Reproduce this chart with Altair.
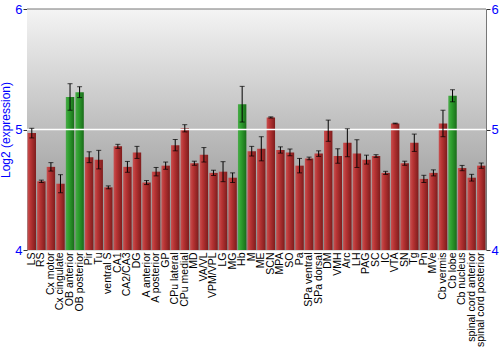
import altair as alt
import pandas as pd

regions = ["LS", "RS", "Cx motor", "Cx cingulate", "OB anterior", "OB posterior", "Pir", "Tu",
           "ventral S", "CA1", "CA2/CA3", "DG", "A anterior", "A posterior", "GP", "CPu lateral",
           "CPu medial", "MD", "VA/VL", "VPM/VPL", "LG", "MG", "Hb", "M", "ME", "SCN", "MPA", "SO",
           "Pa", "SPa ventral", "SPa dorsal", "DM", "VMH", "Arc", "LH", "PAG", "SC", "IC", "VTA",
           "SN", "Tg", "Pn", "MVe", "Cb vermis", "Cb lobe", "Cb nucleus", "spinal cord anterior",
           "spinal cord posterior"]
values = [4.97, 4.57, 4.69, 4.55, 5.27, 5.31, 4.77, 4.75,
          4.52, 4.86, 4.69, 4.81, 4.56, 4.65, 4.70, 4.87,
          5.01, 4.72, 4.79, 4.64, 4.65, 4.60, 5.21, 4.82, 4.84, 5.10, 4.83, 4.81,
          4.70, 4.76, 4.80, 4.99, 4.78, 4.89, 4.80, 4.75, 4.78, 4.64, 5.05,
          4.72, 4.89, 4.59, 4.64, 5.05, 5.28, 4.68, 4.60, 4.70]
errors = [0.04, 0.01, 0.035, 0.075, 0.11, 0.045, 0.045, 0.077,
          0.012, 0.017, 0.045, 0.05, 0.017, 0.035, 0.03, 0.047,
          0.03, 0.017, 0.06, 0.022, 0.083, 0.04, 0.148, 0.04, 0.10, 0.005, 0.026, 0.028,
          0.06, 0.011, 0.023, 0.088, 0.06, 0.116, 0.115, 0.037, 0.011, 0.013, 0.003,
          0.017, 0.072, 0.03, 0.025, 0.11, 0.05, 0.022, 0.028, 0.022]
highlighted = ["OB anterior", "OB posterior", "Hb", "Cb lobe"]
y_ticks = [4, 5, 6]

df = pd.DataFrame({"region": regions, "value": values, "err": errors})
df["lo"] = df["value"] - df["err"]
df["hi"] = df["value"] + df["err"]
df["hl"] = df["region"].isin(highlighted)

W, H = 459, 241
FONT = "Liberation Sans"

xenc = alt.X("region:N", sort=regions, scale=alt.Scale(paddingInner=0.12, paddingOuter=0.06),
             axis=alt.Axis(title=None, labelAngle=-90, labelAlign="right", labelBaseline="middle",
                           labelFontSize=10.5, labelColor="black", labelFont=FONT, ticks=False,
                           domain=False, labelPadding=2, labelOverlap=False, labelLimit=200))
yscale = alt.Scale(domain=[4, 6], nice=False, zero=False)

def grad(stops, horiz=True):
    return alt.LinearGradient(gradient="linear",
                              stops=[alt.GradientStop(offset=o, color=c) for o, c in stops],
                              x1=0, y1=0, x2=1 if horiz else 0, y2=0 if horiz else 1)

def yaxis(orient, title=None):
    kw = dict(values=y_ticks, orient=orient, labelExpr="'' + round(datum.value)",
              labelColor="blue", labelFontSize=13,
              labelFont=FONT, domainColor="#777777", tickColor="#333333", tickSize=4,
              grid=False, labelPadding=1, labelOverlap=False, labelFlush=False,
              labelBound=False)
    if title:
        kw.update(title=title, titleColor="blue", titleFontSize=12, titleFontWeight="normal",
                  titleFont=FONT, titlePadding=2)
    else:
        kw.update(title=None)
    return alt.Axis(**kw)

bg = alt.Chart(pd.DataFrame({"a": [0]})).mark_rect(
    color=grad([(0, "#f4f4f4"), (0.5, "#bdbdbd"), (1, "#8a8a8a")], horiz=False)
).encode(x=alt.value(0), x2=alt.value(W), y=alt.value(0), y2=alt.value(H))

base = alt.Chart(df)

grid = alt.Chart(pd.DataFrame({"v": [5]})).mark_rule(color="white", strokeWidth=1.5).encode(
    y=alt.Y("v:Q", scale=yscale, axis=yaxis("left", "Log2 (expression)")))

top = alt.Chart(pd.DataFrame({"v": [6]})).mark_rule(color="#777777", strokeWidth=1).encode(
    y=alt.Y("v:Q", scale=yscale, axis=yaxis("right")))

red_grad = grad([(0, "#c85050"), (0.35, "#b83434"), (1, "#7e1c1c")])
green_grad = grad([(0, "#4aaa4a"), (0.35, "#2ea02e"), (1, "#1a6c1a")])

bars_red = base.transform_filter("!datum.hl").mark_bar(color=red_grad).encode(
    x=xenc, y=alt.Y("value:Q", scale=yscale, axis=None), y2=alt.datum(4))
bars_green = base.transform_filter("datum.hl").mark_bar(color=green_grad).encode(
    x=xenc, y=alt.Y("value:Q", scale=yscale, axis=None), y2=alt.datum(4))

err = base.mark_rule(color="black", strokeWidth=1).encode(
    x=xenc, y=alt.Y("lo:Q", scale=yscale, axis=None), y2="hi:Q")
cap_lo = base.mark_tick(color="black", size=5, thickness=1).encode(
    x=xenc, y=alt.Y("lo:Q", scale=yscale, axis=None))
cap_hi = base.mark_tick(color="black", size=5, thickness=1).encode(
    x=xenc, y=alt.Y("hi:Q", scale=yscale, axis=None))

chart = alt.layer(bg, bars_red, bars_green, grid, top, err, cap_lo, cap_hi).resolve_axis(
    y="independent").properties(
    width=W, height=H, autosize=alt.AutoSizeParams(type="none"),
    padding={"left": 27, "top": 9, "right": 14, "bottom": 100}
).configure_view(stroke=None).configure(background="white")

chart.save("out.html", embed_options={"renderer": "svg", "actions": False})
